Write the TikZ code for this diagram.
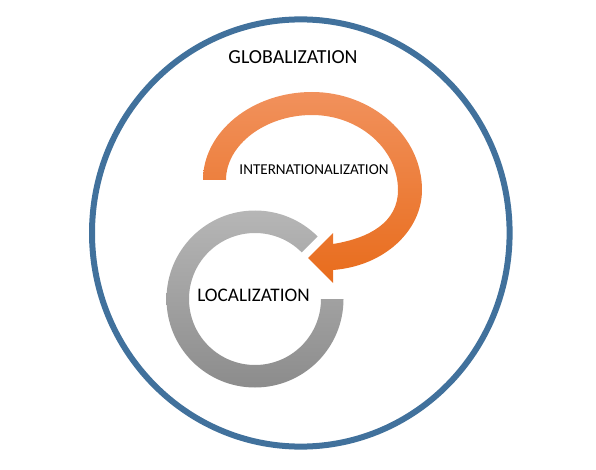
\documentclass[tikz,border=0pt]{standalone}
\usepackage{fontspec}
\setmainfont{Carlito}
\usetikzlibrary{calc}
\definecolor{ringblue}{RGB}{65,113,156}
\definecolor{orangetop}{RGB}{241,145,92}
\definecolor{orangebot}{RGB}{232,108,28}
\definecolor{graytop}{RGB}{182,182,182}
\definecolor{graybot}{RGB}{140,140,140}
\begin{document}
\begin{tikzpicture}[x=1pt,y=-1pt,
  lbl/.style={inner sep=0pt, text=black}]
\useasboundingbox (0,0) rectangle (596,470);
% outer globalization ring
\draw[ringblue, line width=6pt] (300.8,233) ellipse [x radius=208.8, y radius=213.6];
% gray localization ring
\coordinate (lc) at (255,299);
\shade[top color=graytop, bottom color=graybot]
  ($(lc)+(0:88.5)$) arc [start angle=0, end angle=315, radius=88.5]
  -- ($(lc)+(315:66)$) arc [start angle=315, end angle=0, radius=66] -- cycle;
% orange internationalization arrow
\shade[top color=orangetop, bottom color=orangebot]
  (203,180) .. controls (203,132) and (252,92) .. (312,92)
  .. controls (372,92) and (422,136) .. (422,190)
  .. controls (422,230) and (385,266) .. (333,270)
  -- (333,283) -- (308,258) -- (333,233) -- (333,244)
  .. controls (370,238) and (398,222) .. (398,190)
  .. controls (398,149) and (359,115) .. (312,115)
  .. controls (265,115) and (226,145) .. (226,180)
  -- cycle;
% labels
\node[lbl, font=\fontsize{19.9}{23}\selectfont] (glob) at (293,57) {GLOBALIZATION};
\node[lbl, font=\fontsize{15.1}{18}\selectfont] (intl) at (314,170) {INTERNATIONALIZATION};
\node[lbl, font=\fontsize{19.2}{23}\selectfont] (loc) at (253.5,295) {LOCALIZATION};
\end{tikzpicture}
\end{document}
